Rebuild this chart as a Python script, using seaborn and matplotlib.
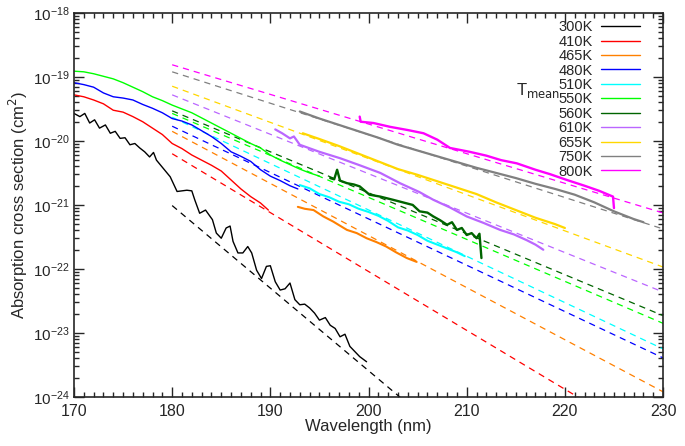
import numpy as np
import pandas as pd
import matplotlib
matplotlib.use("Agg")
import matplotlib.pyplot as plt
import seaborn as sns
from matplotlib.ticker import MultipleLocator, LogLocator, NullFormatter

# measured spectra, log10(cross section / cm^2) vs wavelength (nm)
wl_300 = [170.0, 170.6, 171.1, 171.6, 172.1, 172.6, 173.2, 173.7, 174.2, 174.7, 175.2, 175.7,
          176.2, 176.7, 177.2, 177.7, 178.1, 178.4, 179.1, 179.8, 180.5, 181.5, 182.0, 182.3,
          182.8, 183.4, 184.1, 184.5, 185.0, 185.5, 185.9, 186.2, 186.7, 187.2, 187.7, 188.1,
          188.6, 189.1, 189.6, 190.0, 190.5, 191.0, 191.5, 192.0, 192.5, 193.0, 193.5, 194.0,
          194.5, 195.0, 195.6, 196.1, 196.6, 197.1, 197.6, 198.1, 198.6, 199.1, 199.8]
lg_300 = [-19.57, -19.62, -19.57, -19.72, -19.67, -19.80, -19.75, -19.88, -19.85, -19.96, -19.95, -20.06,
          -20.04, -20.11, -20.17, -20.25, -20.18, -20.30, -20.43, -20.56, -20.79, -20.77, -20.78, -20.92,
          -21.13, -21.08, -21.23, -21.44, -21.52, -21.36, -21.33, -21.57, -21.75, -21.75, -21.65, -21.75,
          -22.02, -22.15, -21.96, -21.95, -22.20, -22.33, -22.31, -22.22, -22.48, -22.56, -22.55, -22.61,
          -22.69, -22.80, -22.76, -22.88, -22.93, -23.06, -23.02, -23.21, -23.29, -23.37, -23.45]

wl_410 = [170, 171, 172, 173, 174, 175, 176, 177, 178, 179, 180, 181, 182, 183, 184, 185, 186,
          187, 188, 189, 189.8]
lg_410 = [-19.28, -19.31, -19.36, -19.42, -19.52, -19.55, -19.62, -19.70, -19.80, -19.90, -20.04,
          -20.12, -20.22, -20.30, -20.38, -20.47, -20.61, -20.75, -20.87, -20.97, -21.08]

wl_465 = [192.8, 193.5, 194.4, 195.4, 196.4, 197.8, 198.8, 199.8, 200.8, 201.8, 202.8, 203.9, 204.9]
lg_465 = [-21.03, -21.06, -21.08, -21.18, -21.26, -21.39, -21.44, -21.52, -21.58, -21.65, -21.74,
          -21.83, -21.89]

wl_480 = [170, 171, 172, 173, 174, 175, 176, 177, 178, 179, 180, 181, 182, 183, 184, 185, 186,
          187, 188, 189, 190, 191, 192, 192.8]
lg_480 = [-19.09, -19.12, -19.16, -19.25, -19.31, -19.33, -19.36, -19.43, -19.49, -19.56, -19.65,
          -19.69, -19.75, -19.84, -19.93, -20.04, -20.17, -20.24, -20.32, -20.45, -20.55, -20.62,
          -20.70, -20.75]

wl_510 = [193.0, 194, 195, 196, 197, 198, 199, 200, 201, 202, 203, 204, 205, 206, 207, 208, 209,
          209.8]
lg_510 = [-20.69, -20.74, -20.83, -20.88, -20.95, -20.99, -21.06, -21.11, -21.17, -21.25, -21.35,
          -21.40, -21.47, -21.56, -21.62, -21.68, -21.74, -21.80]

wl_550 = [170, 171, 172, 173, 174, 175, 176, 177, 178, 179, 180, 181, 182, 183, 184, 185, 186,
          187, 188, 189, 190, 191, 192, 193, 194, 195]
lg_550 = [-18.91, -18.92, -18.95, -18.99, -19.03, -19.09, -19.16, -19.23, -19.31, -19.37, -19.44,
          -19.50, -19.56, -19.64, -19.72, -19.80, -19.88, -19.96, -20.04, -20.11, -20.22, -20.30,
          -20.37, -20.44, -20.50, -20.55]

wl_560 = [196.1, 196.5, 196.8, 197.1, 197.8, 198.5, 199.1, 200.1, 201.2, 202.5, 203.5, 204.5,
          205.2, 206.0, 206.6, 207.3, 208.0, 208.5, 209.0, 209.5, 210.0, 210.5, 211.0, 211.3, 211.5]
lg_560 = [-20.58, -20.60, -20.45, -20.62, -20.66, -20.68, -20.71, -20.84, -20.87, -20.92, -20.96,
          -21.00, -21.10, -21.12, -21.18, -21.24, -21.31, -21.27, -21.39, -21.36, -21.47, -21.44,
          -21.52, -21.45, -21.83]

wl_610 = [190.5, 191.2, 192.0, 192.4, 193.0, 195.0, 197.1, 199.1, 201.2, 203.2, 205.2, 206.6,
          208.3, 210.0, 211.7, 213.4, 214.8, 216.1, 217.0, 217.8]
lg_610 = [-19.82, -19.88, -19.96, -19.93, -20.06, -20.17, -20.27, -20.38, -20.50, -20.66, -20.80,
          -20.92, -21.04, -21.18, -21.28, -21.39, -21.46, -21.55, -21.62, -21.70]

wl_655 = [193.3, 195, 197, 199, 201, 203, 205, 207, 209, 211, 213, 215, 217, 219, 220]
lg_655 = [-19.88, -19.97, -20.08, -20.20, -20.32, -20.44, -20.53, -20.63, -20.73, -20.83, -20.96,
          -21.08, -21.20, -21.30, -21.36]

wl_750 = [193, 195, 197, 199, 201, 203, 205, 207, 209, 211, 213, 215, 217, 219, 221, 223, 225,
          227, 228]
lg_750 = [-19.54, -19.65, -19.75, -19.85, -19.95, -20.06, -20.15, -20.24, -20.33, -20.42, -20.50,
          -20.58, -20.67, -20.75, -20.84, -20.96, -21.10, -21.22, -21.27]

wl_800 = [199.1, 199.2, 200.5, 202.2, 204.0, 205.6, 207.0, 208.3, 210.3, 212.0, 213.5, 215.1,
          217.0, 218.5, 220.2, 222.0, 223.5, 224.9, 225.0]
lg_800 = [-19.62, -19.70, -19.72, -19.78, -19.83, -19.88, -19.98, -20.11, -20.17, -20.23, -20.30,
          -20.35, -20.45, -20.52, -20.61, -20.70, -20.78, -20.87, -21.05]

# power-law fits: log10 value at 180 nm and 230 nm
fit_wl = [180, 230]
fit_lg = {
    "300K": [-21.01, -27.46],
    "410K": [-20.20, -24.80],
    "465K": [-19.85, -23.92],
    "480K": [-19.77, -23.39],
    "510K": [-19.63, -23.25],
    "550K": [-19.57, -22.85],
    "560K": [-19.53, -22.73],
    "610K": [-19.28, -22.36],
    "655K": [-19.145, -21.97],
    "750K": [-18.92, -21.375],
    "800K": [-18.81, -21.125],
}

labels = ["300K", "410K", "465K", "480K", "510K", "550K", "560K", "610K", "655K", "750K", "800K"]
colors = ["#000000", "#ff0000", "#ff8000", "#0000ff", "#00ffff", "#00ff00", "#006400",
          "#bb66ff", "#ffd700", "#808080", "#ff00ff"]
widths = [1.0, 1.0, 1.5, 1.0, 1.5, 1.0, 1.7, 1.6, 1.6, 1.6, 1.7]
spectra = [(wl_300, lg_300), (wl_410, lg_410), (wl_465, lg_465), (wl_480, lg_480),
           (wl_510, lg_510), (wl_550, lg_550), (wl_560, lg_560), (wl_610, lg_610),
           (wl_655, lg_655), (wl_750, lg_750), (wl_800, lg_800)]

sns.set_style("ticks")
plt.rcParams["font.family"] = ["Liberation Sans", "DejaVu Sans"]
plt.rcParams["xtick.direction"] = "in"
plt.rcParams["ytick.direction"] = "in"

fig = plt.figure(figsize=(6.85, 4.46), dpi=100)
ax = fig.add_axes([0.108, 0.110, 0.860, 0.861])

handles = []
for lab, col, (wl, lg) in zip(labels, colors, spectra):
    sns.lineplot(x=fit_wl, y=10.0 ** np.array(fit_lg[lab]), color=col, lw=0.9,
                 ax=ax, linestyle=(0, (5, 4)))
for lab, col, w, (wl, lg) in zip(labels, colors, widths, spectra):
    d = pd.DataFrame({"wl": wl, "sigma": 10.0 ** np.array(lg)})
    sns.lineplot(data=d, x="wl", y="sigma", color=col, lw=w, ax=ax, sort=False)
    handles.append(plt.Line2D([], [], color=col, lw=1.0))

ax.set_yscale("log")
ax.set_xlim(170, 230)
ax.set_ylim(1e-24, 1e-18)
ax.xaxis.set_major_locator(MultipleLocator(10))
ax.xaxis.set_minor_locator(MultipleLocator(1))
ax.yaxis.set_major_locator(LogLocator(base=10, numticks=10))
ax.yaxis.set_minor_locator(LogLocator(base=10, subs=np.arange(2, 10), numticks=10))
ax.yaxis.set_minor_formatter(NullFormatter())
ax.tick_params(which="both", top=True, right=True, width=1)
ax.tick_params(which="major", length=7)
ax.tick_params(which="minor", length=3.5)
ax.tick_params(axis="x", labelsize=11.5, pad=5)
ax.tick_params(axis="y", labelsize=11, pad=3)
for s in ax.spines.values():
    s.set_linewidth(1.2)

ax.set_xlabel("Wavelength (nm)", fontsize=12, labelpad=0)
ax.set_ylabel("Absorption cross section (cm$^2$)", fontsize=12, labelpad=2)

ax.legend(handles, labels, loc="upper right", bbox_to_anchor=(0.973, 1.0), frameon=False,
          markerfirst=False, fontsize=10.5, labelspacing=0.03, handlelength=2.7,
          handletextpad=0.55, borderpad=0)
ax.text(0.750, 0.786, r"T$_{\mathrm{mean}}$", transform=ax.transAxes, fontsize=12)

fig.savefig("out.png", dpi=100)
